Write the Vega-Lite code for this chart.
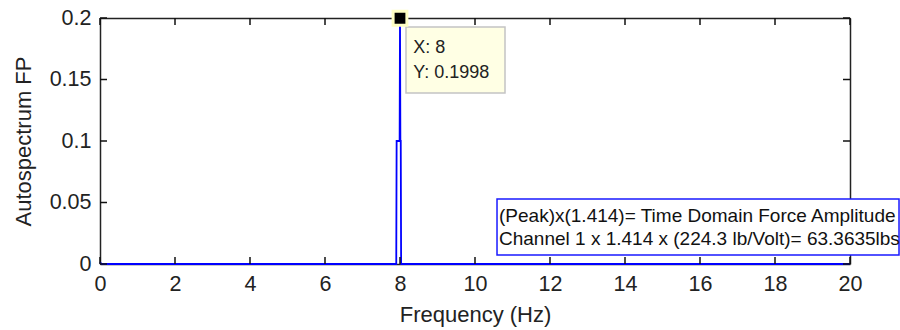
{
  "$schema": "https://vega.github.io/schema/vega-lite/v6.json",
  "width": 750,
  "height": 246,
  "autosize": "none",
  "padding": {"left": 100, "top": 18, "right": 50, "bottom": 66},
  "background": "white",
  "config": {
    "view": {"stroke": null},
    "font": "Liberation Sans",
    "axis": {"grid": false, "labelFlush": false, "domainColor": "#222", "domainWidth": 1.5, "labelColor": "#222", "titleColor": "#222", "labelFont": "Liberation Sans", "titleFont": "Liberation Sans", "titleFontWeight": "normal"}
  },
  "datasets": {
    "spectrum": [
      {"f": 0, "a": 0.0015},
      {"f": 0.04, "a": 0},
      {"f": 7.9, "a": 0},
      {"f": 7.91, "a": 0.1},
      {"f": 7.99, "a": 0.1},
      {"f": 8.0, "a": 0.1998},
      {"f": 8.01, "a": 0.1},
      {"f": 8.02, "a": 0.1},
      {"f": 8.03, "a": 0},
      {"f": 20, "a": 0}
    ],
    "xticks": [{"v": 0}, {"v": 2}, {"v": 4}, {"v": 6}, {"v": 8}, {"v": 10}, {"v": 12}, {"v": 14}, {"v": 16}, {"v": 18}, {"v": 20}],
    "yticks": [{"v": 0}, {"v": 0.05}, {"v": 0.1}, {"v": 0.15}, {"v": 0.2}],
    "peak": [{"f": 8, "a": 0.1998}],
    "tipbox": [{"x1": 8.16, "x2": 10.8, "y1": 0.1927, "y2": 0.139}],
    "tiptext": [
      {"x": 8.35, "y": 0.1715, "t": "X: 8"},
      {"x": 8.35, "y": 0.1512, "t": "Y: 0.1998"}
    ],
    "notebox": [{"x1": 10.587, "x2": 21.307, "y1": 0.0528, "y2": 0.0073}],
    "notetext": [
      {"x": 10.64, "y": 0.0341, "t": "(Peak)x(1.414)= Time Domain Force Amplitude"},
      {"x": 10.64, "y": 0.0154, "t": "Channel 1 x 1.414 x (224.3 lb/Volt)= 63.3635lbs"}
    ]
  },
  "layer": [
    {
      "data": {"name": "spectrum"},
      "mark": {"type": "line", "color": "#0000ff", "strokeWidth": 1.8},
      "encoding": {
        "x": {"field": "f", "type": "quantitative", "scale": {"domain": [0, 20], "nice": false, "zero": false},
              "axis": {"orient": "bottom", "title": "Frequency (Hz)", "values": [0,2,4,6,8,10,12,14,16,18,20], "format": "d", "ticks": false, "labelPadding": 9, "labelFontSize": 21.5, "titleFontSize": 22, "titlePadding": 10}},
        "y": {"field": "a", "type": "quantitative", "scale": {"domain": [0, 0.2], "nice": false, "zero": false},
              "axis": {"orient": "left", "title": "Autospectrum FP", "values": [0, 0.05, 0.1, 0.15, 0.2], "format": "~g", "ticks": false, "labelPadding": 9, "labelFontSize": 21.5, "titleFontSize": 22, "titlePadding": 14}}
      }
    },
    {
      "data": {"name": "xticks"},
      "mark": {"type": "rule", "color": "#111", "strokeWidth": 1.5},
      "encoding": {
        "x": {"field": "v", "type": "quantitative", "scale": {"domain": [0, 20], "nice": false, "zero": false}, "axis": null},
        "y": {"datum": 0, "type": "quantitative", "scale": {"domain": [0, 0.2], "nice": false, "zero": false}, "axis": null},
        "y2": {"datum": 0.0057}
      }
    },
    {
      "data": {"name": "xticks"},
      "mark": {"type": "rule", "color": "#111", "strokeWidth": 1.5},
      "encoding": {
        "x": {"field": "v", "type": "quantitative", "scale": {"domain": [0, 20], "nice": false, "zero": false}, "axis": null},
        "y": {"datum": 0.2, "type": "quantitative", "scale": {"domain": [0, 0.2], "nice": false, "zero": false}, "axis": null},
        "y2": {"datum": 0.1943}
      }
    },
    {
      "data": {"name": "yticks"},
      "mark": {"type": "rule", "color": "#111", "strokeWidth": 1.5},
      "encoding": {
        "x": {"datum": 0, "type": "quantitative", "scale": {"domain": [0, 20], "nice": false, "zero": false}, "axis": null},
        "x2": {"datum": 0.187},
        "y": {"field": "v", "type": "quantitative", "scale": {"domain": [0, 0.2], "nice": false, "zero": false}, "axis": null}
      }
    },
    {
      "data": {"name": "yticks"},
      "mark": {"type": "rule", "color": "#111", "strokeWidth": 1.5},
      "encoding": {
        "x": {"datum": 20, "type": "quantitative", "scale": {"domain": [0, 20], "nice": false, "zero": false}, "axis": null},
        "x2": {"datum": 19.813},
        "y": {"field": "v", "type": "quantitative", "scale": {"domain": [0, 0.2], "nice": false, "zero": false}, "axis": null}
      }
    },
    {
      "data": {"name": "tipbox"},
      "mark": {"type": "rect", "fill": "#ffffe4", "stroke": "#c4c4c4", "strokeWidth": 1.5},
      "encoding": {
        "x": {"field": "x1", "type": "quantitative", "scale": {"domain": [0, 20], "nice": false, "zero": false}, "axis": null},
        "x2": {"field": "x2"},
        "y": {"field": "y1", "type": "quantitative", "scale": {"domain": [0, 0.2], "nice": false, "zero": false}, "axis": null},
        "y2": {"field": "y2"}
      }
    },
    {
      "data": {"name": "tiptext"},
      "mark": {"type": "text", "align": "left", "baseline": "alphabetic", "fontSize": 18, "color": "#222"},
      "encoding": {
        "x": {"field": "x", "type": "quantitative", "scale": {"domain": [0, 20], "nice": false, "zero": false}, "axis": null},
        "y": {"field": "y", "type": "quantitative", "scale": {"domain": [0, 0.2], "nice": false, "zero": false}, "axis": null},
        "text": {"field": "t"}
      }
    },
    {
      "data": {"name": "peak"},
      "mark": {"type": "point", "shape": "square", "filled": true, "fill": "black", "stroke": "#ffffc4", "strokeWidth": 3, "size": 190, "opacity": 1},
      "encoding": {
        "x": {"field": "f", "type": "quantitative", "scale": {"domain": [0, 20], "nice": false, "zero": false},
              "axis": {"orient": "top", "labels": false, "ticks": false, "title": null}},
        "y": {"field": "a", "type": "quantitative", "scale": {"domain": [0, 0.2], "nice": false, "zero": false},
              "axis": {"orient": "right", "labels": false, "ticks": false, "title": null}}
      }
    },
    {
      "data": {"name": "notebox"},
      "mark": {"type": "rect", "fill": "white", "stroke": "#1a1aff", "strokeWidth": 1.5},
      "encoding": {
        "x": {"field": "x1", "type": "quantitative", "scale": {"domain": [0, 20], "nice": false, "zero": false}, "axis": null},
        "x2": {"field": "x2"},
        "y": {"field": "y1", "type": "quantitative", "scale": {"domain": [0, 0.2], "nice": false, "zero": false}, "axis": null},
        "y2": {"field": "y2"}
      }
    },
    {
      "data": {"name": "notetext"},
      "mark": {"type": "text", "align": "left", "baseline": "alphabetic", "fontSize": 19, "color": "#111"},
      "encoding": {
        "x": {"field": "x", "type": "quantitative", "scale": {"domain": [0, 20], "nice": false, "zero": false}, "axis": null},
        "y": {"field": "y", "type": "quantitative", "scale": {"domain": [0, 0.2], "nice": false, "zero": false}, "axis": null},
        "text": {"field": "t"}
      }
    }
  ],
  "resolve": {"axis": {"x": "independent", "y": "independent"}}
}
